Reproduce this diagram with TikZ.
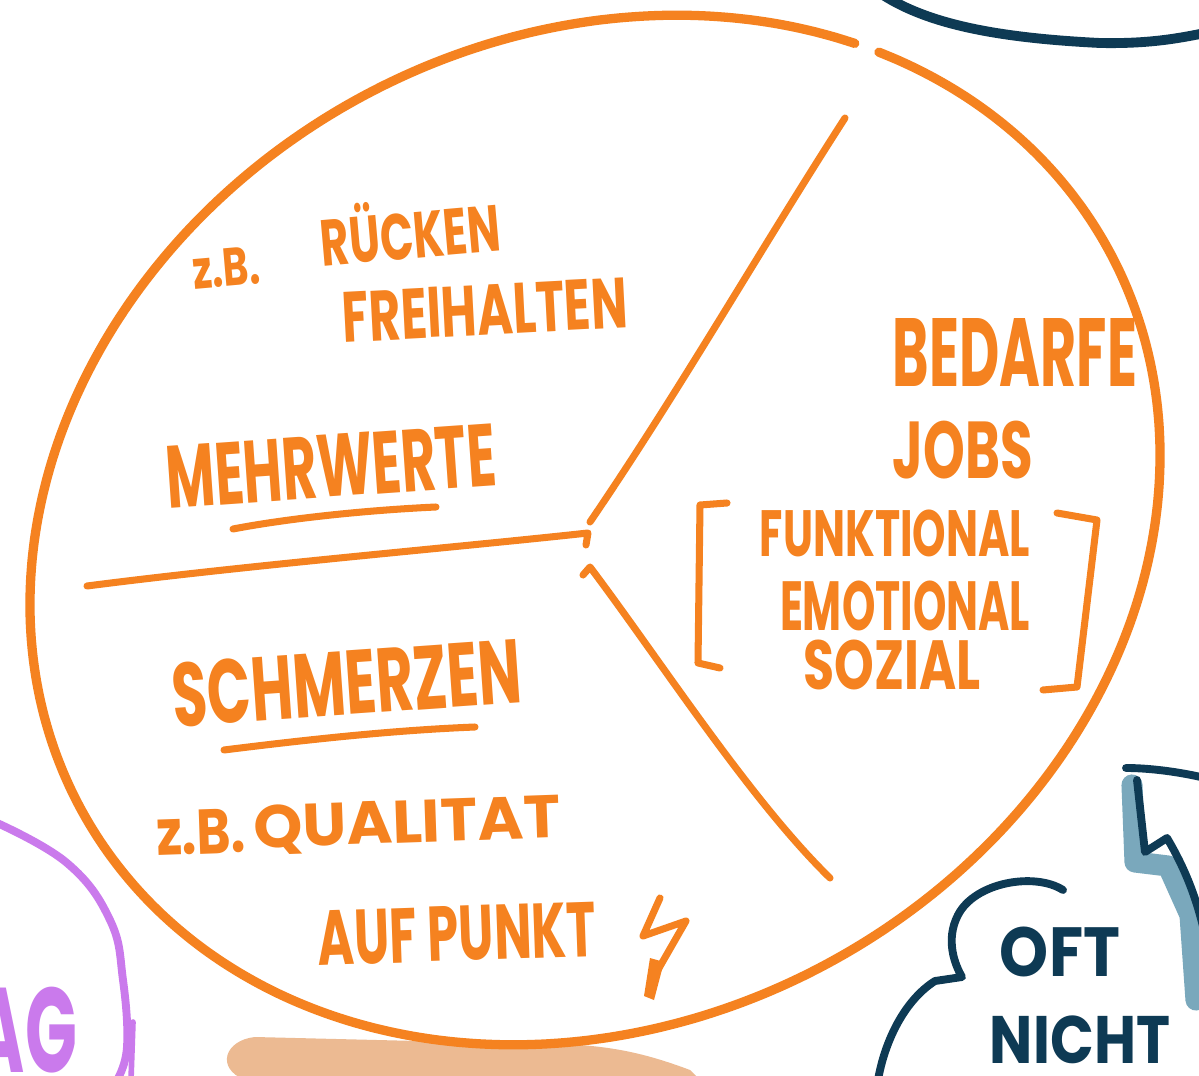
\documentclass[tikz,border=0pt]{standalone}
\usepackage{fontspec}
\setmainfont{Poppins}
\usepackage{graphicx}
\newlength\upx \setlength\upx{0.025cm}
\newcommand\hw[3]{\resizebox*{#1\upx}{#2\upx}{\bfseries #3}}
\definecolor{orgc}{RGB}{245,130,32}
\definecolor{navyc}{RGB}{14,58,84}
\definecolor{lblue}{RGB}{122,168,188}
\definecolor{purc}{RGB}{202,122,236}
\definecolor{blobc}{RGB}{236,186,146}
\tikzset{
  x=0.025cm, y=-0.025cm,
  hwo/.style={text=orgc, inner sep=0pt},
  hwn/.style={text=navyc, inner sep=0pt},
  hwp/.style={text=purc, inner sep=0pt},
  rim/.style={draw=orgc, line width=6.6pt, line cap=round, line join=round},
  ol/.style={draw=orgc, line width=5pt, line cap=round, line join=round},
  nl/.style={draw=navyc, line width=5.6pt, line cap=round, line join=round},
}
\begin{document}
\begin{tikzpicture}
\useasboundingbox (0,0) rectangle (1199,1076);
\fill[white] (0,0) rectangle (1199,1076);

% peach blob at bottom
\fill[blobc] (700,1080) -- (690,1070) .. controls (650,1055) and (620,1048) .. (580,1045)
  -- (255,1037) .. controls (225,1040) and (215,1068) .. (245,1080) -- cycle;

% purple circle and AG
\draw[draw=purc, line width=5.6pt, line cap=round] plot[smooth, tension=0.7] coordinates {(-5,822) (67,863) (110,920) (123,980) (127,1047) (117,1080)};
\draw[draw=purc, line width=4pt, line cap=round] (133,1022) -- (131,1080);
\node[hwp] (ag) at (26,1030) {\hw{102}{86}{AG}};

% main ellipse (rotated, with a gap at the top)
\draw[rim] plot[domain=38:395.2, samples=160, smooth]
  ({595 + 585*cos(\x)*0.8780 - 492*sin(\x)*0.4787}, {530 - 585*cos(\x)*0.4787 - 492*sin(\x)*0.8780});

% dividing lines
\coordinate (hub) at (588,533);
\draw[ol] (87,586) .. controls (250,565) and (450,548) .. (hub) -- (586,545);
\draw[ol] (590,522) .. controls (680,390) and (760,250) .. (845,118);
\draw[ol] (583,575) -- (590,567) .. controls (660,660) and (750,800) .. (830,878);

% upper left section
\node[hwo, rotate=5] (zb1) at (226,268) {\hw{67}{38}{z.B.}};
\node[hwo, rotate=5] (ruecken) at (410,229) {\hw{180}{60}{RÜCKEN}};
\node[hwo, rotate=3] (frei) at (485,310) {\hw{285}{50}{FREIHALTEN}};
\node[hwo, rotate=4] (mehr) at (331,466) {\hw{330}{62}{MEHRWERTE}};
\draw[ol] (233,529) .. controls (290,518) and (370,510) .. (436,507);

% lower left section
\node[hwo, rotate=4] (schm) at (347,683) {\hw{350}{65}{SCHMERZEN}};
\draw[ol] (224,750) .. controls (320,738) and (400,730) .. (475,727);
\node[hwo, rotate=2] (zb2) at (201,832) {\hw{89}{45}{z.B.}};
\node[hwo, rotate=2] (qual) at (407,825) {\hw{307}{50}{QUALITAT}};
\node[hwo, rotate=2] (auf) at (457,934) {\hw{278}{55}{AUF PUNKT}};
\draw[ol] (660,898) -- (643,936) -- (686,921) -- (655,975);
\fill[orgc] (650,958) -- (664,962) -- (654,1000) -- (644,996) -- cycle;

% right section
\node[hwo] (bed) at (1015,352) {\hw{244}{68}{BEDARFE}};
\node[hwo] (jobs) at (963,450) {\hw{140}{58}{JOBS}};
\node[hwo] (funk) at (895,533) {\hw{270}{47}{FUNKTIONAL}};
\node[hwo] (emo) at (905,606) {\hw{250}{50}{EMOTIONAL}};
\node[hwo] (soz) at (892,665) {\hw{177}{50}{SOZIAL}};
\draw[ol] (727,503) -- (700,505) -- (698,663) -- (720,668);
\draw[ol] (1057,513) -- (1097,520) -- (1077,687) -- (1043,690);

% navy curve top right
\draw[nl, line width=7pt] (883,-5) .. controls (930,25) and (1000,38) .. (1100,43) .. controls (1150,44) and (1180,38) .. (1205,33);

% right shape with blue shadow
\draw[draw=lblue, line width=15pt, line cap=round, line join=round] (1132,785) -- (1135,862) -- (1168,866) -- (1190,915) -- (1196,1000);
\draw[nl] (1126,768) .. controls (1150,768) and (1180,772) .. (1205,778);
\draw[nl] (1137,780) -- (1145,852) -- (1167,838) .. controls (1180,860) and (1195,890) .. (1205,935);

% speech bubble
\draw[nl] (1063,890) .. controls (1035,872) and (975,882) .. (958,915) .. controls (945,940) and (955,965) .. (962,977)
  -- (935,981) .. controls (905,1000) and (885,1040) .. (878,1080);
\node[hwn] (oft) at (1060,952) {\hw{120}{50}{OFT}};
\node[hwn] (nicht) at (1080,1040) {\hw{180}{48}{NICHT}};
\end{tikzpicture}
\end{document}
